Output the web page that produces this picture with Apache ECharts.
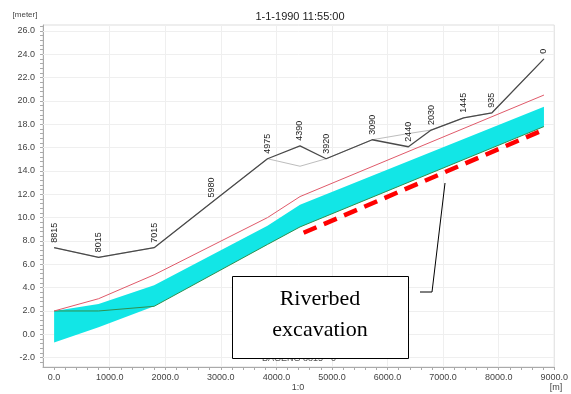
<!DOCTYPE html>
<html>
<head>
<meta charset="utf-8">
<script src="https://cdn.jsdelivr.net/npm/echarts@6/dist/echarts.min.js"></script>
<style>
  html, body { margin: 0; padding: 0; background: #ffffff; }
  #chart { width: 571px; height: 394px; }
</style>
</head>
<body>
<div id="chart"></div>
<script>
// Longitudinal profile of the branch, distance along the river [m]
const distance = [0, 800, 1800, 2835, 3840, 4425, 4895, 5725, 6375, 6785, 7370, 7880, 8815];
// Chainage of each cross-section, printed above the bank line
const chainageLabels = ['8815', '8015', '7015', '5980', '4975', '4390', '3920', '3090', '2440', '2030', '1445', '935', '0'];
// Bank levels [m]
const leftBank = [7.42, 6.6, 7.42, 11.3, 15.04, 16.15, 15.04, 16.67, 16.07, 17.5, 18.55, 18.98, 23.6];
const rightBank = [7.42, 6.6, 7.42, 11.3, 15.04, 14.4, 15.04, 16.67, 17.2, 17.5, 18.55, 18.98, 23.6];

// Bed and water profile, sampled at the bed nodes
const bedDistance = [0, 800, 1800, 3840, 4425, 8815];
const waterLevel = [2.0, 3.05, 5.1, 10.0, 11.8, 20.5];
const bedTop = [2.0, 2.6, 4.2, 9.3, 11.1, 19.5];
const bedBottom = [-0.7, 0.6, 2.4, 7.7, 9.2, 17.8];
const bedLevel = [2.0, 2.0, 2.4, 7.7, 9.2, 17.8];

// Planned excavation level (start and end of the reach)
const excavationDistance = [4490, 8750];
const excavationLevel = [8.7, 17.4];

// Axis tick labels
const xLabelValues = [0, 1000, 2000, 3000, 4000, 5000, 6000, 7000, 8000, 9000];
const yLabelValues = [-2, 0, 2, 4, 6, 8, 10, 12, 14, 16, 18, 20, 22, 24, 26];

const X_MIN = -200, X_MAX = 9000, Y_MIN = -2.8, Y_MAX = 26.5;

const xTickValues = [];
for (let v = 0; v <= X_MAX; v += 200) xTickValues.push(v);
const yTickValues = [];
for (let v = -2.4; v <= 26.4; v += 0.4) yTickValues.push(Math.round(v * 10) / 10);

const pairs = (xs, ys) => xs.map((x, i) => [x, ys[i]]);

const chart = echarts.init(document.getElementById('chart'), null, { renderer: 'canvas' });

const font = 'Liberation Sans, Arial, sans-serif';

chart.setOption({
  animation: false,
  backgroundColor: '#ffffff',
  grid: { left: 43, right: 14, top: 25, bottom: 27, show: true, borderColor: '#dddddd', borderWidth: 1, backgroundColor: 'transparent' },
  xAxis: {
    type: 'value', min: X_MIN, max: X_MAX,
    axisLine: { show: true, onZero: false, lineStyle: { color: '#aaaaaa', width: 1 } },
    axisTick: { show: true, customValues: xTickValues, length: 3, lineStyle: { color: '#aaaaaa' } },
    axisLabel: {
      customValues: xLabelValues, margin: 6, color: '#444444', fontSize: 9, fontFamily: font,
      formatter: v => v.toFixed(1)
    },
    splitLine: { show: false }
  },
  yAxis: {
    type: 'value', min: Y_MIN, max: Y_MAX,
    axisLine: { show: true, onZero: false, lineStyle: { color: '#aaaaaa', width: 1 } },
    axisTick: { show: true, customValues: yTickValues, length: 3, lineStyle: { color: '#aaaaaa' } },
    axisLabel: {
      customValues: yLabelValues, margin: 8, color: '#444444', fontSize: 9, fontFamily: font,
      formatter: v => v.toFixed(1)
    },
    splitLine: { show: false }
  },
  graphic: [
    { type: 'text', x: 300, y: 17, style: { text: '1-1-1990 11:55:00', fill: '#222222', font: '11px ' + font, align: 'center', verticalAlign: 'middle' } },
    { type: 'text', x: 25, y: 15, style: { text: '[meter]', fill: '#444444', font: '8px ' + font, align: 'center', verticalAlign: 'middle' } },
    { type: 'text', x: 298, y: 388, style: { text: '1:0', fill: '#444444', font: '9px ' + font, align: 'center', verticalAlign: 'middle' } },
    { type: 'text', x: 556, y: 388, style: { text: '[m]', fill: '#444444', font: '9px ' + font, align: 'center', verticalAlign: 'middle' } },
    { type: 'text', x: 299, y: 359, z: 50, style: { text: 'BAGENG 8815 - 0', fill: '#555555', font: '9px ' + font, align: 'center', verticalAlign: 'middle' } },
    // annotation box and its leader
    { type: 'polyline', z: 60, shape: { points: [[445, 183], [432, 292], [420, 292]] }, style: { stroke: '#000000', lineWidth: 1, fill: null } },
    { type: 'rect', z: 60, shape: { x: 232.5, y: 276.5, width: 176, height: 82 }, style: { fill: '#ffffff', stroke: '#000000', lineWidth: 1 } },
    { type: 'text', z: 61, x: 320, y: 315, style: { text: 'Riverbed\nexcavation', fill: '#000000', font: '22px "Liberation Serif", "Times New Roman", serif', align: 'center', verticalAlign: 'middle', lineHeight: 31 } }
  ],
  series: [
    {
      // faint reference grid, kept underneath the profile
      type: 'line', data: [], z: 1, silent: true,
      markLine: {
        z: 1, silent: true, symbol: 'none', label: { show: false },
        lineStyle: { color: '#efefef', width: 1, type: 'solid' },
        data: yLabelValues.map(v => ({ yAxis: v })).concat(xLabelValues.slice(1, -1).map(v => ({ xAxis: v })))
      }
    },
    {
      // excavated bed layer
      type: 'custom', z: 10, silent: true,
      data: [0],
      renderItem: (params, api) => {
        const top = bedDistance.map((x, i) => api.coord([x, bedTop[i]]));
        const bottom = bedDistance.map((x, i) => api.coord([x, bedBottom[i]])).reverse();
        return { type: 'polygon', shape: { points: top.concat(bottom) }, style: { fill: '#12e6e6', stroke: null } };
      }
    },
    {
      type: 'line', z: 11, data: pairs(bedDistance, bedLevel), symbol: 'none',
      lineStyle: { color: '#2f8f4f', width: 1 }
    },
    {
      type: 'line', z: 12, data: pairs(bedDistance, waterLevel), symbol: 'none',
      lineStyle: { color: '#e05a6a', width: 1 }
    },
    {
      type: 'line', z: 13, data: pairs(distance, rightBank), symbol: 'none',
      lineStyle: { color: '#bdbdbd', width: 1 }
    },
    {
      type: 'line', z: 14, data: pairs(distance, leftBank),
      symbol: 'circle', symbolSize: 0, showSymbol: true, showAllSymbol: true,
      itemStyle: { color: '#4a4a4a' },
      lineStyle: { color: '#4a4a4a', width: 1.3 },
      label: {
        show: true, position: 'top', distance: 5, rotate: 90, align: 'left', verticalAlign: 'middle',
        color: '#222222', fontSize: 9, fontFamily: font,
        formatter: p => chainageLabels[p.dataIndex]
      },
      labelLayout: { hideOverlap: false }
    },
    {
      type: 'line', z: 15, data: pairs(excavationDistance, excavationLevel), symbol: 'none',
      lineStyle: { color: '#ff0000', width: 4.5, type: [14, 8], cap: 'butt' }
    }
  ]
});
</script>
</body>
</html>
